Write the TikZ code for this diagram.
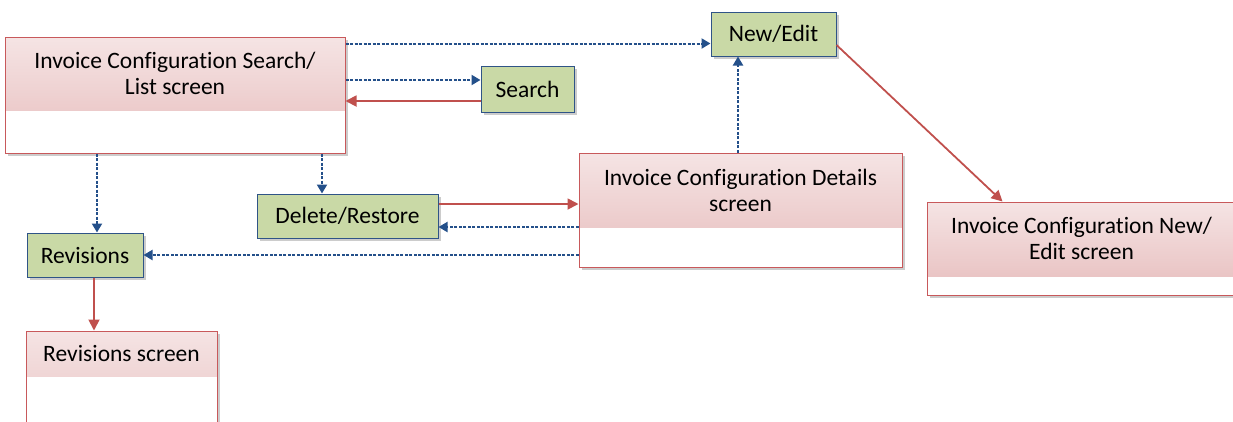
\documentclass[tikz,border=0pt]{standalone}
\usepackage{fontspec}
\setmainfont{Carlito}[Ligatures={NoCommon}]
\usetikzlibrary{positioning, arrows.meta, shadows, calc}
\definecolor{cHEADTOP}{HTML}{F5E4E4}
\definecolor{cHEADBOT}{HTML}{E7BDBD}
\definecolor{cSCRLINE}{HTML}{C8595B}
\definecolor{cACTFILL}{HTML}{C9D9A6}
\definecolor{cACTLINE}{HTML}{2F5487}
\definecolor{cNAV}{HTML}{24508A}
\definecolor{cBACK}{HTML}{C0504D}
\tikzset{
  head/.store in=\headh,
  head=70pt,
  boxshadow/.style={
    drop shadow={shadow xshift=3pt, shadow yshift=-3pt, fill=black!40, opacity=0.5}
  },
  screenbox/.style={
    draw=cSCRLINE, line width=1pt,
    fill=white, boxshadow,
    inner sep=0pt,
    minimum width=#1,
    path picture={
      \shade[top color=cHEADTOP, bottom color=cHEADBOT]
        (path picture bounding box.north west) rectangle
        ([yshift=-\headh]path picture bounding box.north east);
    }
  },
  titletext/.style={
    align=center,
    inner sep=0pt,
    font=\fontsize{23.5}{26}\selectfont
  },
  actbox/.style={
    draw=cACTLINE, line width=1pt,
    fill=cACTFILL, boxshadow,
    inner sep=0pt,
    minimum width=#1,
    minimum height=44pt,
    font=\fontsize{23.5}{26}\selectfont
  },
  nav/.style={
    -{Triangle[length=9pt,width=10pt]},
    draw=cNAV, line width=2pt,
    dash pattern=on 3pt off 1.5pt
  },
  back/.style={
    -{Triangle[length=11pt,width=11pt]},
    draw=cBACK, line width=1.8pt
  }
}

\begin{document}
\begin{tikzpicture}[x=1pt, y=1pt]
  \useasboundingbox (0,0) rectangle (1233,-421);
  \clip (0,0) rectangle (1233,-421);

  % screens
  \node[screenbox=340pt, minimum height=116pt, head=73pt] (list) at (175,-95) {};
  \node[titletext] (listtitle) at ($(list.north)+(0,-36.5)$) {Invoice Configuration Search/\\List screen};

  \node[screenbox=323pt, minimum height=114pt, head=74pt] (details) at (740.5,-210) {};
  \node[titletext] (detailstitle) at ($(details.north)+(0,-37.5)$) {Invoice Configuration Details\\screen};

  \node[screenbox=309pt, minimum height=93pt, head=74pt] (editscr) at (1081.5,-248.5) {};
  \node[titletext] (editscrtitle) at ($(editscr.north)+(0,-37)$) {Invoice Configuration New/\\Edit screen};

  \node[screenbox=191pt, minimum height=120pt, head=45pt] (revscr) at (121.5,-391) {};
  \node[titletext] (revscrtitle) at ($(revscr.north)+(0,-23)$) {Revisions screen};

  % actions
  \node[actbox=93pt, minimum height=46pt] (search) at (527.5,-89) {Search};
  \node[actbox=125pt] (newedit) at (773.5,-34) {New/Edit};
  \node[actbox=181pt] (delres) at (347.5,-216) {Delete/Restore};
  \node[actbox=116pt] (revisions) at (85,-255) {Revisions};

  % connectors
  \draw[nav] ([yshift=-7pt]list.north east) -- ([yshift=-7pt]list.north east -| newedit.west);
  \draw[nav] ([yshift=9pt]search.west -| list.east) -- ([yshift=9pt]search.west);
  \draw[back] ([yshift=-12pt]search.west) -- ([yshift=-12pt]search.west -| list.east);
  \draw[nav] ([xshift=12pt]revisions.north |- list.south) -- ([xshift=12pt]revisions.north);
  \draw[nav] ([xshift=-25.5pt]delres.north |- list.south) -- ([xshift=-25.5pt]delres.north);
  \draw[back] ([yshift=12pt]delres.east) -- ([yshift=12pt]delres.east -| details.west);
  \draw[nav] ([yshift=-11pt]delres.east -| details.west) -- ([yshift=-11pt]delres.east);
  \draw[nav] (revisions.east -| details.west) -- (revisions.east);
  \draw[nav] ([xshift=-35.5pt]newedit.south |- details.north) -- ([xshift=-35.5pt]newedit.south);
  \draw[back] ([yshift=-11pt]newedit.east) -- ([xshift=76pt]editscr.north west);
  \draw[back] ([xshift=9pt]revisions.south) -- ([xshift=9pt]revisions.south |- revscr.north);
\end{tikzpicture}
\end{document}
